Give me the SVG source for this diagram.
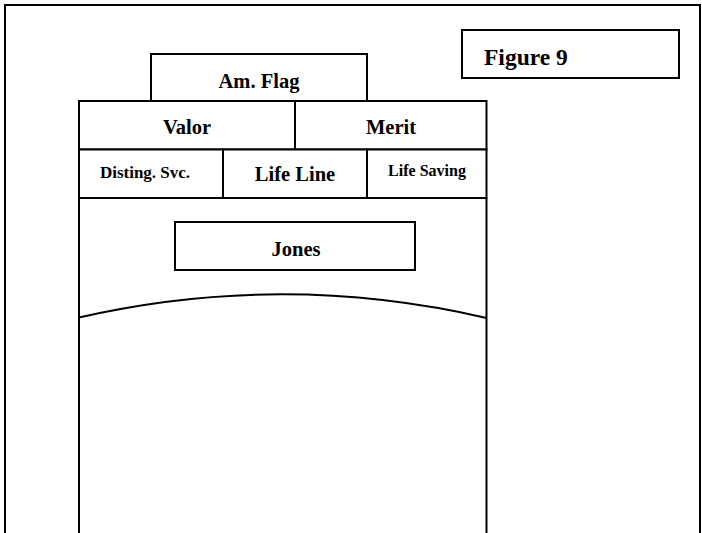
<svg xmlns="http://www.w3.org/2000/svg" width="702" height="533" viewBox="0 0 702 533">
<style>
.b{fill:#fff;stroke:#000;stroke-width:2}
.l{fill:none;stroke:#000;stroke-width:2}
.t{font-family:"Liberation Serif","Times New Roman",serif;font-weight:bold;fill:#000}
</style>
<rect width="702" height="533" fill="#fff"/>
<g id="frame">
<path class="l" d="M5,533 V5 H700 V533"/>
</g>
<g id="figure9">
<rect class="b" x="462" y="30" width="217" height="48"/>
<text class="t" x="484" y="64.5" font-size="23.5">Figure 9</text>
</g>
<g id="amflag">
<rect class="b" x="151" y="54" width="216" height="47"/>
<text class="t" x="259" y="88" font-size="20.5" text-anchor="middle">Am. Flag</text>
</g>
<g id="valor">
<rect class="b" x="79" y="101" width="216" height="48.5"/>
<text class="t" x="187" y="134" font-size="20.5" text-anchor="middle">Valor</text>
</g>
<g id="merit">
<rect class="b" x="295" y="101" width="191.5" height="48.5"/>
<text class="t" x="391" y="134" font-size="20.5" text-anchor="middle">Merit</text>
</g>
<g id="disting">
<rect class="b" x="79" y="149.5" width="144" height="48.5"/>
<text class="t" x="145" y="178" font-size="17" text-anchor="middle">Disting. Svc.</text>
</g>
<g id="lifeline">
<rect class="b" x="223" y="149.5" width="144" height="48.5"/>
<text class="t" x="295" y="181" font-size="20.5" text-anchor="middle">Life Line</text>
</g>
<g id="lifesaving">
<rect class="b" x="367" y="149.5" width="119.5" height="48.5"/>
<text class="t" x="427" y="176" font-size="16" text-anchor="middle">Life Saving</text>
</g>
<g id="body">
<path class="l" d="M79,198 V533 M486.5,198 V533"/>
<path class="l" d="M79,317.5 Q282.5,271 486.5,318"/>
</g>
<g id="jones">
<rect class="b" x="175" y="222" width="240" height="48"/>
<text class="t" x="296" y="255.5" font-size="20.5" text-anchor="middle">Jones</text>
</g>
<g id="connectors"/>
</svg>
